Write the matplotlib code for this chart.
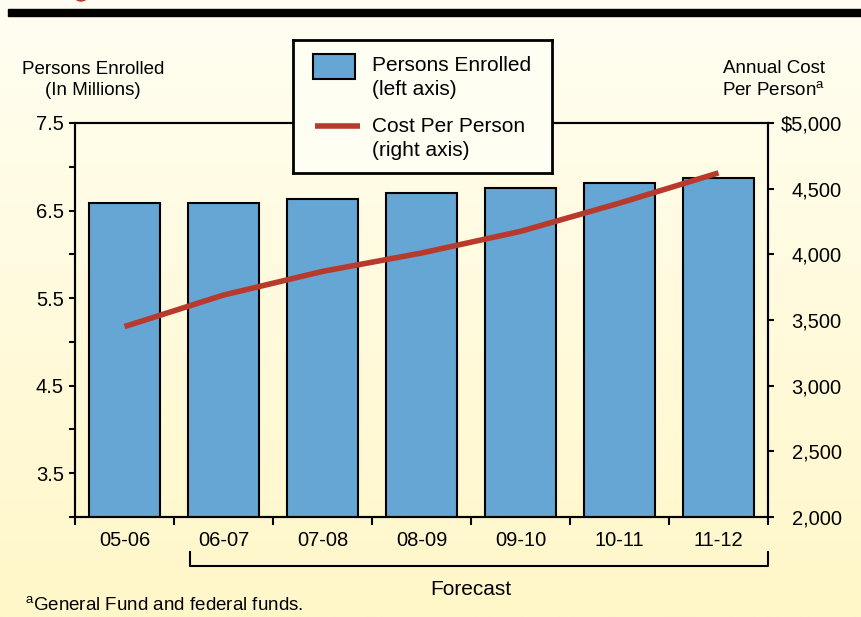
import numpy as np
import matplotlib
matplotlib.use('Agg')
import matplotlib.pyplot as plt
from matplotlib.patches import Rectangle, Ellipse
from matplotlib.lines import Line2D
from matplotlib.colors import LinearSegmentedColormap

plt.rcParams['font.family'] = ['Liberation Sans', 'DejaVu Sans']
plt.rcParams['mathtext.fontset'] = 'custom'
plt.rcParams['mathtext.rm'] = 'Liberation Sans'

# Data
years = ['05-06', '06-07', '07-08', '08-09', '09-10', '10-11', '11-12']
enrolled = [6.585, 6.59, 6.635, 6.70, 6.755, 6.815, 6.875]   # millions
cost = [3450, 3690, 3870, 4010, 4175, 4390, 4620]            # dollars per person
left_ticks = [3.5, 4.5, 5.5, 6.5, 7.5]
left_minor = [3.0, 4.0, 5.0, 6.0, 7.0]
right_ticks = [2000, 2500, 3000, 3500, 4000, 4500, 5000]
right_labels = ['2,000', '2,500', '3,000', '3,500', '4,000', '4,500', '$5,000']
legend_labels = ['Persons Enrolled\n(left axis)', 'Cost Per Person\n(right axis)']

blue = '#65a6d4'
red = '#b83a2d'
W, H = 861, 617

fig = plt.figure(figsize=(W / 100, H / 100), dpi=100)

# background gradient + top rule
bg = fig.add_axes([0, 0, 1, 1], zorder=0)
bg.axis('off')
cmap = LinearSegmentedColormap.from_list('bg', ['#fffef2', '#fff7c8'])
bg.imshow(np.linspace(0, 1, 256).reshape(-1, 1), cmap=cmap, aspect='auto',
          extent=[0, 1, 0, 1], origin='upper')
bg.set_xlim(0, 1)
bg.set_ylim(0, 1)
bg.add_patch(Rectangle((8 / W, 1 - 16 / H), 1, 7 / H, color='black'))
bg.add_patch(Ellipse((81 / W, 1 + 6 / H), 15 / W, 14 / H, color='#c8342a'))

# main axes
ax = fig.add_axes([75 / W, 100 / H, 693 / W, 394 / H], zorder=1)
ax.patch.set_visible(False)
x = np.arange(len(years))
ax.bar(x, enrolled, width=0.71, color=blue, edgecolor='black', linewidth=1.5, zorder=2)
ax.set_xlim(-0.5, 6.5)
ax.set_ylim(3.0, 7.5)
ax.set_yticks(left_ticks)
ax.set_yticklabels([f'{v:.1f}' for v in left_ticks])
ax.set_yticks(left_minor, minor=True)
ax.tick_params(axis='y', which='both', direction='out', length=4, width=1.5,
               labelsize=14.5, pad=4)
ax.set_xticks(np.arange(-0.5, 7, 1))
ax.set_xticklabels([''] * 8)
ax.set_xticks(x, minor=True)
ax.set_xticklabels(years, minor=True)
ax.tick_params(axis='x', which='major', direction='out', length=6, width=1.5)
ax.tick_params(axis='x', which='minor', length=0, pad=10, labelsize=14.5)
for s in ax.spines.values():
    s.set_linewidth(1.5)

ax2 = ax.twinx()
ax2.set_zorder(2)
ax2.patch.set_visible(False)
ax2.plot(x, cost, color=red, lw=4, solid_capstyle='butt')
ax2.set_ylim(2000, 5000)
ax2.set_yticks(right_ticks)
ax2.set_yticklabels(right_labels)
ax2.tick_params(axis='y', direction='out', length=4, width=1.5, labelsize=14.5, pad=49)
for lab in ax2.get_yticklabels():
    lab.set_horizontalalignment('right')
for s in ax2.spines.values():
    s.set_linewidth(1.5)

# axis titles
fig.text(93 / W, 1 - 80 / H, 'Persons Enrolled\n(In Millions)', ha='center', va='center',
         fontsize=13.5, linespacing=1.3)
fig.text(774 / W, 1 - 80 / H, 'Annual Cost\nPer Person$^{\\mathrm{a}}$', ha='center',
         va='center', fontsize=13.5, linespacing=1.3)

# forecast bracket
tr = ax.get_xaxis_transform()
ax.plot([0.66, 0.66, 6.5, 6.5], [-0.089, -0.124, -0.124, -0.089], transform=tr,
        clip_on=False, color='black', lw=1.5)
ax.text(3.5, -0.183, 'Forecast', transform=tr, ha='center', va='center', fontsize=15)

fig.text(25 / W, 1 - 606 / H, '$^{\\mathrm{a}}$General Fund and federal funds.',
         va='center', fontsize=13.5)

# legend box
lg = fig.add_axes([293 / W, 1 - 173 / H, 259 / W, 133 / H], zorder=3)
lg.set_facecolor('#fffef2')
lg.set_xticks([])
lg.set_yticks([])
lg.set_xlim(0, 1)
lg.set_ylim(0, 1)
for s in lg.spines.values():
    s.set_linewidth(2)
lg.add_patch(Rectangle((0.077, 0.707), 0.162, 0.188, facecolor=blue, edgecolor='black', lw=1.5))
lg.add_line(Line2D([0.085, 0.259], [0.353, 0.353], color=red, lw=4, solid_capstyle='butt'))
lg.text(0.305, 0.718, legend_labels[0], va='center', ha='left', fontsize=15, linespacing=1.35)
lg.text(0.305, 0.259, legend_labels[1], va='center', ha='left', fontsize=15, linespacing=1.35)

fig.savefig('out.png', dpi=100)
